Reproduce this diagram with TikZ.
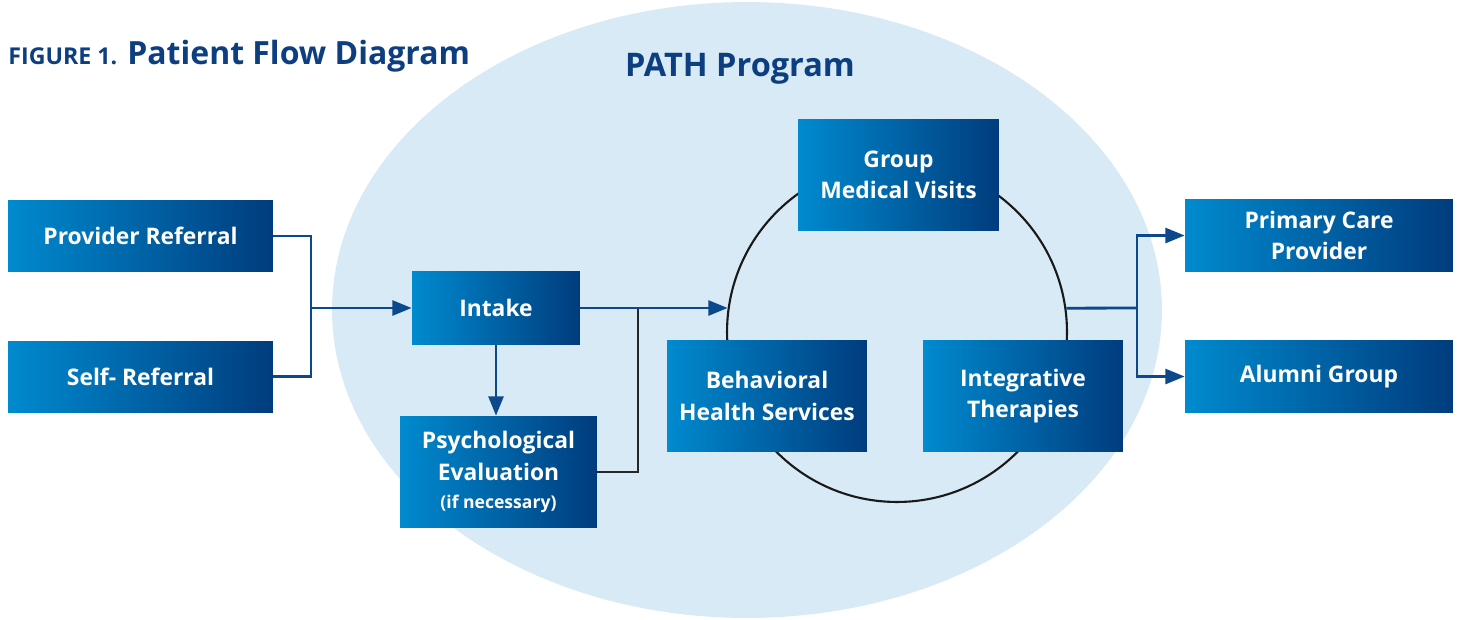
\documentclass[tikz,border=0pt]{standalone}
\usepackage{fontspec}
\setmainfont{Open Sans}
\usetikzlibrary{arrows.meta,shapes,positioning}
\definecolor{boxleft}{RGB}{0,138,207}
\definecolor{boxright}{RGB}{0,60,125}
\definecolor{pathbg}{RGB}{215,234,246}
\definecolor{flowblue}{RGB}{12,72,140}
\definecolor{titleblue}{RGB}{12,62,128}
\tikzset{
    stage/.style={
    rectangle,left color=boxleft,right color=boxright,text=white,
    font=\fontsize{13}{18}\selectfont\bfseries,align=center,inner sep=0pt
    },
    flow/.style={
    draw=flowblue,line width=1.6pt
    },
    backflow/.style={
    draw=black!85,line width=1.6pt
    },
    tip/.style={
    -{Triangle[length=11pt,width=8.5pt]}
    },
    heading/.style={
    text=titleblue,font=\bfseries,inner sep=0pt
    },
}

\begin{document}
\begin{tikzpicture}[x=0.02cm, y=-0.02cm]
   \useasboundingbox (0,0) rectangle (1460,619);
   % program area
   \fill[pathbg] (747,310) ellipse [x radius=8.3cm, y radius=6.16cm];
   \node[circle,draw=black!90,line width=1.2pt,minimum size=6.8cm,inner sep=0pt] (cyc) at (897,332) {};

   % titles
   \node[heading,anchor=base west,font=\fontsize{13.2}{15}\selectfont\bfseries] (fig) at (8,64) {FIGURE 1.};
   \node[heading,anchor=base west,font=\fontsize{18.2}{21}\selectfont\bfseries] (title) at (127,64) {Patient Flow Diagram};
   \node[heading,anchor=base,font=\fontsize{18.5}{21}\selectfont\bfseries] (path) at (740,76) {PATH Program};

   % boxes
   \node[stage,minimum width=5.3cm,minimum height=1.42cm] (prov) at (140.5,236) {Provider Referral};
   \node[stage,minimum width=5.3cm,minimum height=1.42cm] (self) at (140.5,376.5) {Self- Referral};
   \node[stage,minimum width=3.36cm,minimum height=1.48cm] (intake) at (496,308) {Intake};
   \node[stage,minimum width=3.94cm,minimum height=2.24cm] (psych) at (498.5,472)
        {Psychological\\Evaluation\\[-2pt]{\fontsize{10}{12}\selectfont (if necessary)}};
   \node[stage,minimum width=4.02cm,minimum height=2.24cm] (gmv) at (898.5,175) {Group\\Medical Visits};
   \node[stage,minimum width=4.0cm,minimum height=2.24cm] (bhs) at (767,396) {Behavioral\\Health Services};
   \node[stage,minimum width=4.0cm,minimum height=2.24cm] (integ) at (1023,396) {Integrative\\Therapies};
   \node[stage,minimum width=5.36cm,minimum height=1.44cm] (pcp) at (1319,235.5) {Primary Care\\Provider};
   \node[stage,minimum width=5.36cm,minimum height=1.44cm] (alum) at (1319,376.5) {Alumni Group};

   % connectors
   \coordinate (jin) at (311,308);
   \coordinate (jmid) at (638,308);
   \coordinate (jout) at (1137,308);

   \draw[flow] (prov.east) -| (jin) |- (self.east);
   \draw[flow,tip] (jin) -- (intake.west);
   \draw[flow,tip] (intake.south) -- (intake.south |- psych.north);
   \draw[backflow] (psych.east) -| (jmid);
   \draw[flow,tip] (intake.east) -- (intake.east -| cyc.172);
   \draw[flow] (cyc.8) -- (jout);
   \draw[flow,tip] (jout) |- (pcp.west);
   \draw[flow,tip] (jout) |- (alum.west);
\end{tikzpicture}
\end{document}
